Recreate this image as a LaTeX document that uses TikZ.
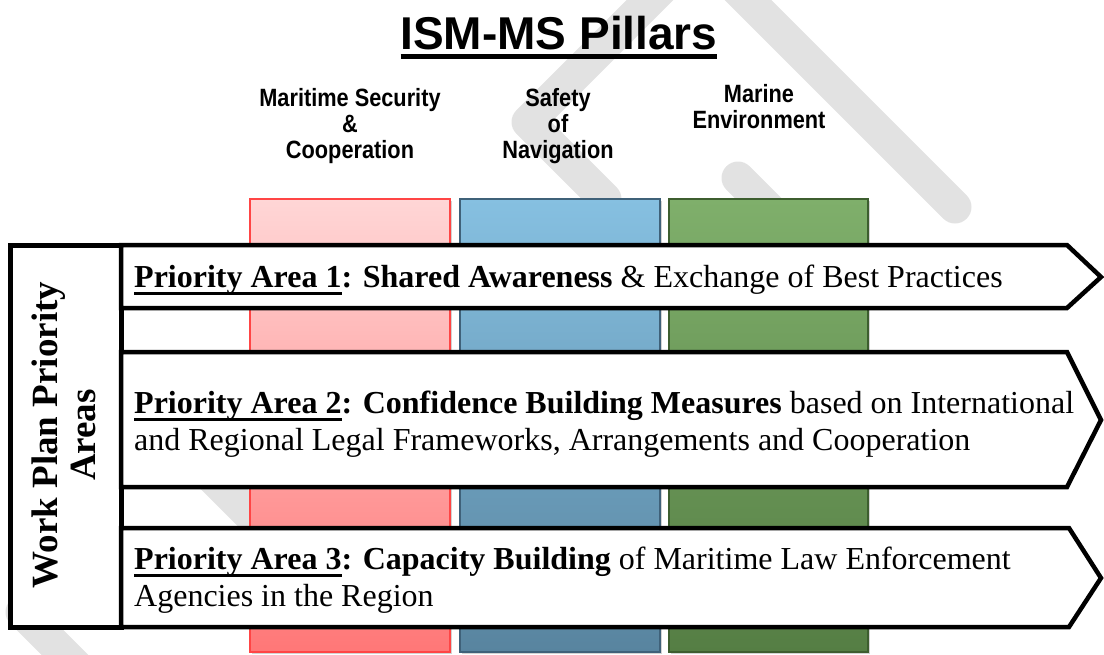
\documentclass[tikz,border=0pt]{standalone}
\usepackage{fontspec}
\setmainfont{Liberation Serif}
\newfontfamily\arialf{Liberation Sans}
\newfontfamily\arialn[FakeStretch=0.87]{Liberation Sans}
\usetikzlibrary{shadows}
\definecolor{redtop}{HTML}{FFD6D6}
\definecolor{redbot}{HTML}{FF7777}
\definecolor{redline}{HTML}{FF4545}
\definecolor{bluetop}{HTML}{86C0E1}
\definecolor{bluebot}{HTML}{58849F}
\definecolor{blueline}{HTML}{3F6179}
\definecolor{greentop}{HTML}{7FAF6B}
\definecolor{greenbot}{HTML}{557E44}
\definecolor{greenline}{HTML}{3D5E2F}
\definecolor{wmark}{HTML}{E2E2E2}
\newsavebox\myulbox
\newcommand{\myul}[3]{\sbox\myulbox{#3}\rlap{\rule[-#1]{\wd\myulbox}{#2}}\usebox\myulbox}
\newcommand{\pa}[1]{\myul{8pt}{3.5pt}{#1}}
\tikzset{
  wm/.style={draw=wmark, line width=33pt, line cap=round, line join=round},
  pillar/.style={line width=1.5pt, drop shadow={shadow xshift=2pt, shadow yshift=-1.5pt, opacity=0.35}},
  lbl/.style={font=\arialn\bfseries\fontsize{25}{26}\selectfont, align=center, inner sep=0pt},
  arrowbox/.style={draw=black, fill=white, line width=4.5pt, line join=miter},
  atext/.style={font=\fontsize{32}{37}\selectfont, inner sep=0pt},
}
\begin{document}
\begin{tikzpicture}[x=1pt, y=-1pt]
\useasboundingbox (0,0) rectangle (1104,654);
% watermark
\draw[wm] (605,199) -- (528,122) -- (699,-49) -- (955,207);
\draw[wm] (738,178) -- (772,212);
\draw[wm] (205,470) -- (300,565);
\draw[wm] (22,612) -- (110,700);
% title and pillar labels
\node[font=\arialf\bfseries\fontsize{46}{50}\selectfont, anchor=base, inner sep=0pt] (title) at (559,49) {\myul{9.5pt}{5pt}{ISM-MS Pillars}};
\node[lbl] (lab1) at (350,126) {Maritime Security\\\&\\Cooperation};
\node[lbl] (lab2) at (558,126) {Safety\\of\\Navigation};
\node[lbl] (lab3) at (759,107) {Marine\\Environment};
% pillars
\path[pillar, draw=redline, top color=redtop, bottom color=redbot] (250,199) rectangle (450,652);
\path[pillar, draw=blueline, top color=bluetop, bottom color=bluebot] (460,199) rectangle (660,652);
\path[pillar, draw=greenline, top color=greentop, bottom color=greenbot] (669,199) rectangle (868,652);
% left box
\draw[line width=5pt, fill=white] (10,245) rectangle (121,627);
\node[font=\bfseries\fontsize{37}{38}\selectfont, rotate=90, align=center, inner sep=0pt] (wp) at (64,435) {Work Plan Priority\\Areas};
% arrows
\draw[arrowbox] (121,245) -- (1067,245) -- (1101,277) -- (1067,308) -- (121,308) -- cycle;
\draw[arrowbox] (121,352) -- (1067,352) -- (1101,420) -- (1067,487) -- (121,487) -- cycle;
\draw[arrowbox] (121,528) -- (1069,528) -- (1101,578) -- (1069,627) -- (121,627) -- cycle;
% texts
\node[atext, anchor=base west] (t1) at (134,287) {\pa{\textbf{Priority Area 1}}\textbf{: Shared Awareness} \& Exchange of Best Practices};
\node[atext, anchor=west, align=left] (t2) at (134,424) {\pa{\textbf{Priority Area 2}}\textbf{: Confidence Building Measures} based on International\\and Regional Legal Frameworks, Arrangements and Cooperation};
\node[atext, anchor=west, align=left] (t3) at (134,580) {\pa{\textbf{Priority Area 3}}\textbf{: Capacity Building} of Maritime Law Enforcement\\Agencies in the Region};
\end{tikzpicture}
\end{document}
